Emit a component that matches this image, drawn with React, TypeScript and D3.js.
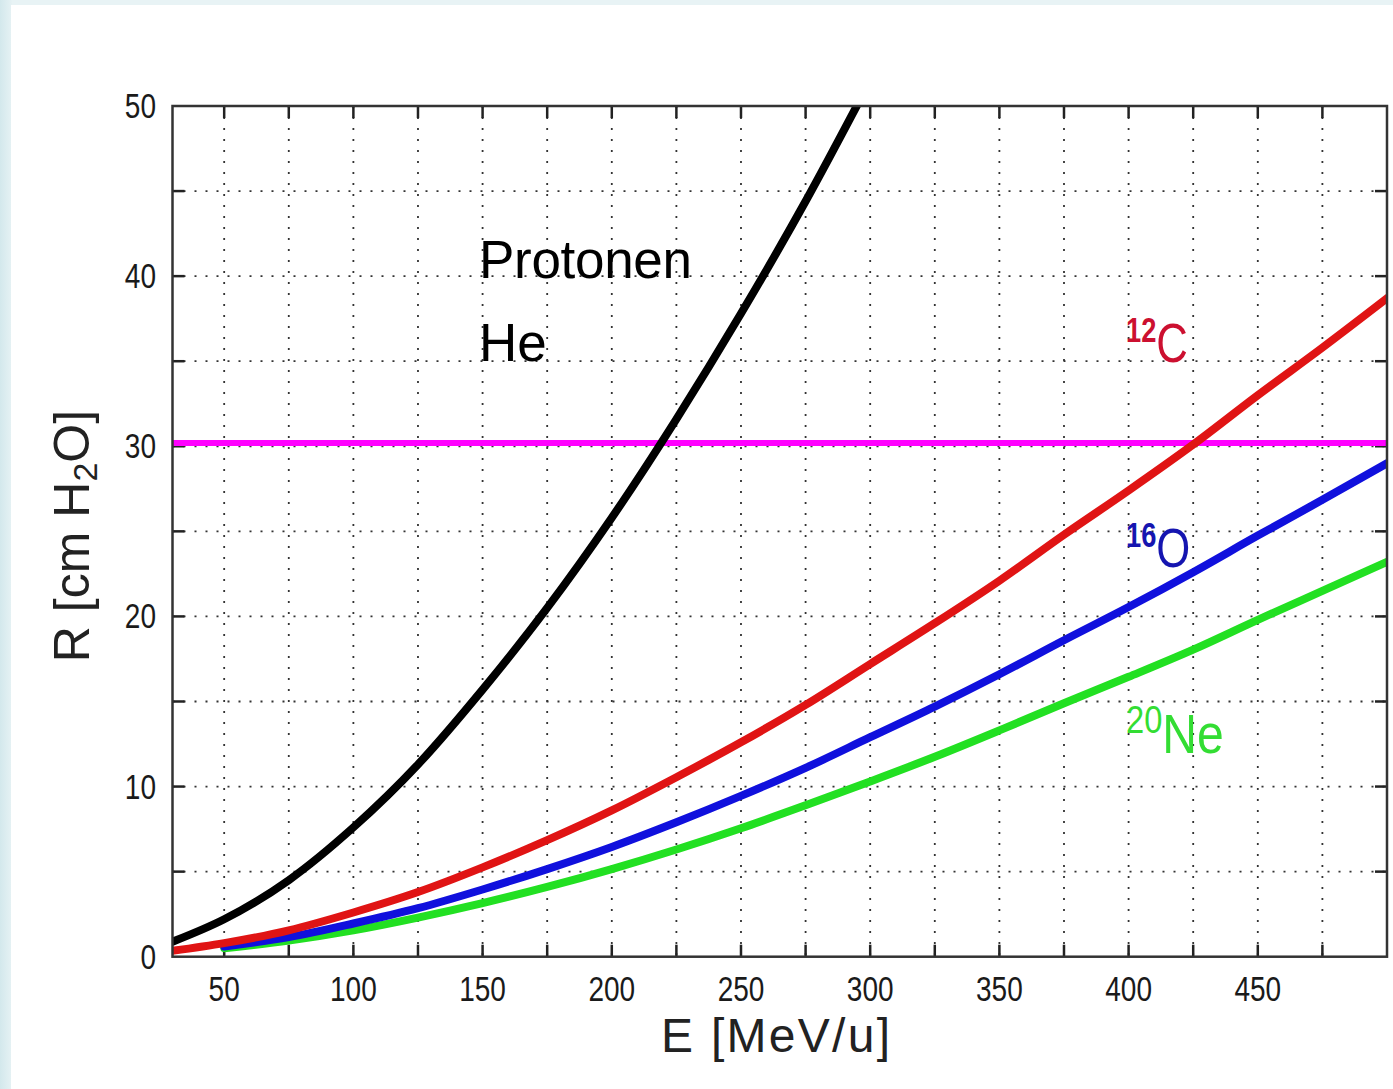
import * as d3 from "d3";

// energy grid [MeV/u] and ranges [cm H2O]
const protonE = [30, 50, 75, 100, 125, 150, 175, 200, 225, 250, 275, 300, 310];
const protonR = [0.88, 2.2, 4.5, 7.6, 11.3, 15.7, 20.5, 25.8, 31.6, 37.8, 44.4, 51.5, 54.4];

const carbonE = [30, 50, 75, 100, 125, 150, 175, 200, 225, 250, 275, 300, 325, 350, 375, 400, 425, 450, 475, 500];
const carbonR = [0.35, 0.8, 1.55, 2.6, 3.8, 5.25, 6.85, 8.6, 10.55, 12.6, 14.8, 17.2, 19.6, 22.1, 24.8, 27.4, 30.1, 33.0, 35.8, 38.7];

const oxygenE = [50, 75, 100, 125, 150, 175, 200, 225, 250, 275, 300, 325, 350, 375, 400, 425, 450, 475, 500];
const oxygenR = [0.6, 1.15, 1.95, 2.85, 3.95, 5.15, 6.45, 7.9, 9.45, 11.1, 12.9, 14.7, 16.6, 18.6, 20.55, 22.6, 24.75, 26.85, 29.0];

const neonE = [50, 75, 100, 125, 150, 175, 200, 225, 250, 275, 300, 325, 350, 375, 400, 425, 450, 475, 500];
const neonR = [0.5, 0.95, 1.55, 2.3, 3.15, 4.1, 5.15, 6.3, 7.55, 8.9, 10.3, 11.75, 13.3, 14.9, 16.45, 18.05, 19.8, 21.5, 23.2];

const depthLine = 30.2;

const xTickLabels = [50, 100, 150, 200, 250, 300, 350, 400, 450];
const yTickLabels = [0, 10, 20, 30, 40, 50];
const xMinor = [50, 75, 100, 125, 150, 175, 200, 225, 250, 275, 300, 325, 350, 375, 400, 425, 450, 475];
const yMinor = [5, 10, 15, 20, 25, 30, 35, 40, 45];

const width = 1393;
const height = 1089;
const left = 172.5;
const right = 1387;
const top = 106;
const bottom = 956.7;
const tick = 12;

const x = d3.scaleLinear().domain([30, 500]).range([left, right]);
const y = d3.scaleLinear().domain([0, 50]).range([bottom, top]);

const line = d3
  .line<[number, number]>()
  .x((d) => x(d[0]))
  .y((d) => y(d[1]))
  .curve(d3.curveMonotoneX);

const zip = (e: number[], r: number[]) => e.map((v, i) => [v, r[i]] as [number, number]);

const curves = [
  { id: "ne", pts: zip(neonE, neonR), color: "#22e022" },
  { id: "o", pts: zip(oxygenE, oxygenR), color: "#1010dd" },
  { id: "c", pts: zip(carbonE, carbonR), color: "#e01414" },
  { id: "p", pts: zip(protonE, protonR), color: "#000000" },
];

const font = "'Liberation Sans', Arial, sans-serif";

// isotope label: small mass number, then the big element symbol, horizontally squeezed
function Isotope({ px, py, mass, sym, color, bold, sx }: { px: number; py: number; mass: string; sym: string; color: string; bold: boolean; sx: number }) {
  return (
    <text transform={`translate(${px},${py}) scale(${sx},1)`} fill={color}>
      <tspan x={0} y={-20} fontSize={bold ? 35 : 38} fontWeight={bold ? "bold" : "normal"}>
        {mass}
      </tspan>
      <tspan y={0} fontSize={56}>
        {sym}
      </tspan>
    </text>
  );
}

export default function App() {
  return (
    <svg
      width={width}
      height={height}
      style={{ position: "absolute", left: 0, top: 0 }}
      fontFamily={font}>
      <defs>
        <linearGradient id="side" x1="0" x2="1" y1="0" y2="0">
          <stop offset="0" stopColor="#d3e8ec" />
          <stop offset="1" stopColor="#e6f2f4" />
        </linearGradient>
        <clipPath id="plot">
          <rect x={left} y={top} width={right - left} height={bottom - top} />
        </clipPath>
      </defs>
      <rect width={width} height={height} fill="#e8f3f5" />
      <rect width={12} height={height} fill="url(#side)" />
      <rect x={11} y={5} width={width - 11} height={height - 5} fill="#ffffff" />

      {/* dotted grid */}
      <g stroke="#333" strokeWidth={1.8} strokeDasharray="2,9">
        {xMinor.map((v) => (
          <line key={"gx" + v} x1={x(v)} x2={x(v)} y1={top} y2={bottom} />
        ))}
        {yMinor.map((v) => (
          <line key={"gy" + v} x1={left} x2={right} y1={y(v)} y2={y(v)} />
        ))}
      </g>

      {/* inward ticks */}
      <g stroke="#222" strokeWidth={2.5}>
        {xMinor.map((v) => (
          <g key={"tx" + v}>
            <line x1={x(v)} x2={x(v)} y1={bottom} y2={bottom - tick} />
            <line x1={x(v)} x2={x(v)} y1={top} y2={top + tick} />
          </g>
        ))}
        {yMinor.map((v) => (
          <g key={"ty" + v}>
            <line x1={left} x2={left + tick} y1={y(v)} y2={y(v)} />
            <line x1={right} x2={right - tick} y1={y(v)} y2={y(v)} />
          </g>
        ))}
      </g>

      <g clipPath="url(#plot)" fill="none" strokeLinecap="round">
        <line
          x1={left}
          x2={right}
          y1={y(depthLine)}
          y2={y(depthLine)}
          stroke="#ff00ff"
          strokeWidth={6}
          strokeLinecap="butt"
        />
        {curves.map((c) => (
          <path key={c.id} d={line(c.pts) ?? ""} stroke={c.color} strokeWidth={8} />
        ))}
      </g>

      <rect
        x={left}
        y={top}
        width={right - left}
        height={bottom - top}
        fill="none"
        stroke="#333"
        strokeWidth={2.5}
      />

      {/* tick labels */}
      <g fill="#1a1a1a" fontSize={35}>
        {xTickLabels.map((v) => (
          <text
            key={"lx" + v}
            textAnchor="middle"
            transform={`translate(${x(v)},${1001}) scale(0.8,1)`}>
            {v}
          </text>
        ))}
        {yTickLabels.map((v) => (
          <text
            key={"ly" + v}
            textAnchor="end"
            transform={`translate(${156},${y(v) + 12}) scale(0.8,1)`}>
            {v}
          </text>
        ))}
      </g>

      {/* axis titles */}
      <text x={661} y={1052} fontSize={48} fill="#222" textLength={229} lengthAdjust="spacing">
        E  [MeV/u]
      </text>
      <text
        transform="translate(89,536) rotate(-90)"
        textAnchor="middle"
        fontSize={50}
        fill="#222">
        R [cm H<tspan fontSize={34} dy={8}>2</tspan>
        <tspan dy={-8}>O]</tspan>
      </text>

      {/* curve annotations */}
      <text x={479} y={278} fontSize={53} fill="#000" textLength={213} lengthAdjust="spacing">
        Protonen
      </text>
      <text x={479} y={361} fontSize={53} fill="#000">
        He
      </text>

      <Isotope px={1126} py={362} mass="12" sym="C" color="#cc1030" bold={true} sx={0.78} />
      <Isotope px={1126} py={567} mass="16" sym="O" color="#1515b0" bold={true} sx={0.78} />
      <Isotope px={1126} py={753} mass="20" sym="Ne" color="#33dd33" bold={false} sx={0.86} />
    </svg>
  );
}
